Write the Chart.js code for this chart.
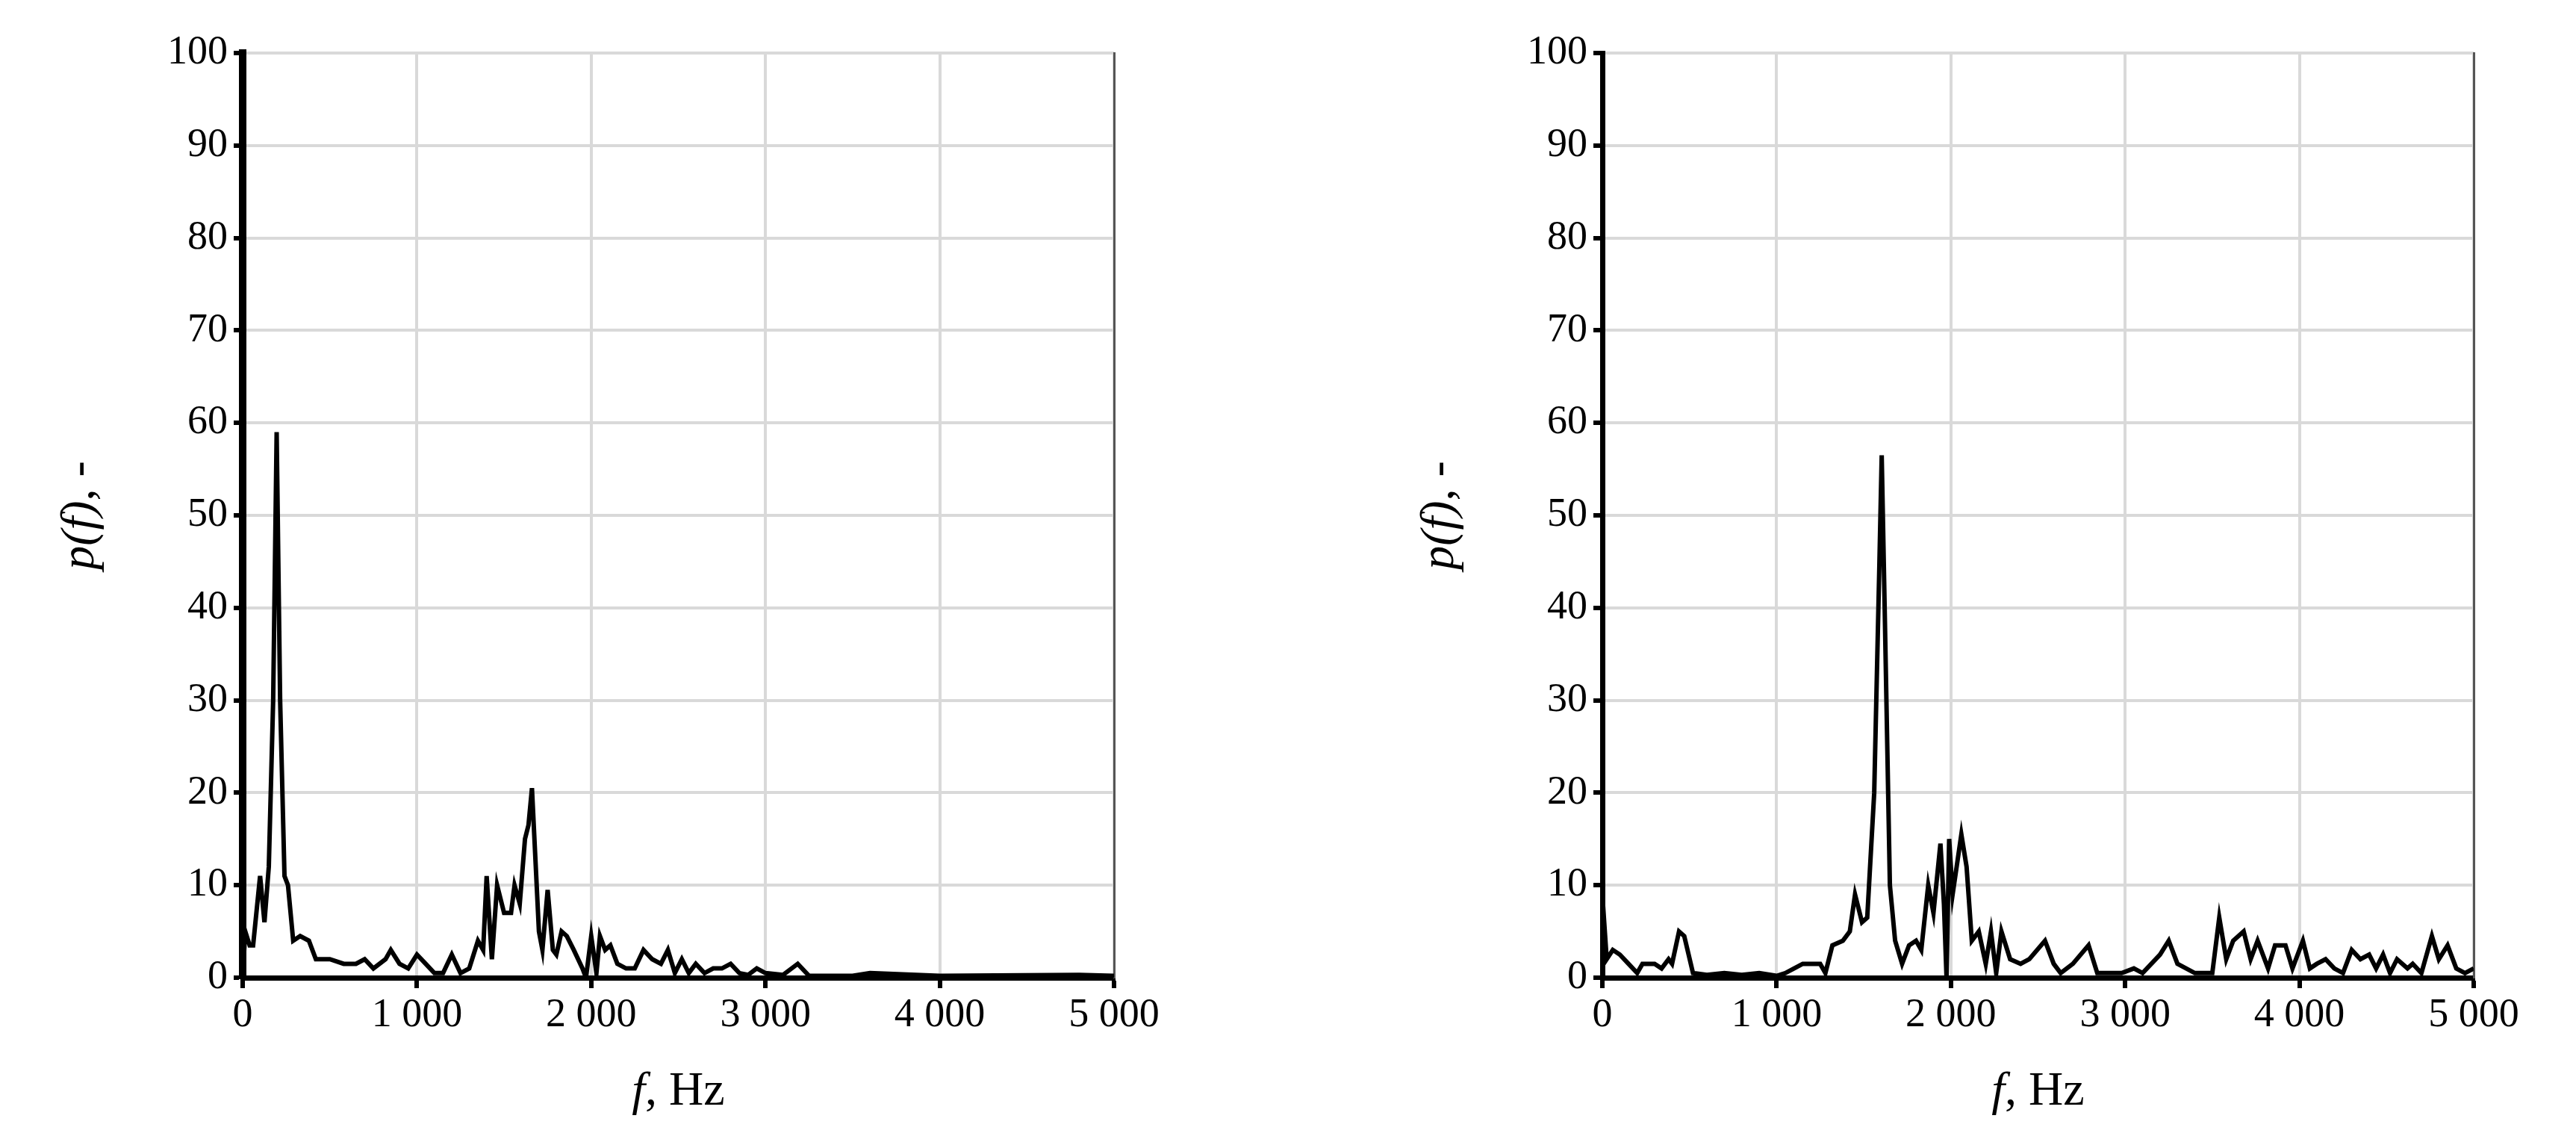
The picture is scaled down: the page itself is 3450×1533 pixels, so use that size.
<!DOCTYPE html>
<html>
<head>
<meta charset="utf-8">
<script src="https://cdn.jsdelivr.net/npm/chart.js@4/dist/chart.umd.min.js"></script>
<style>
  body { margin: 0; background: #fff; }
  .box { position: absolute; top: 0; width: 1725px; height: 1533px; }
</style>
</head>
<body>
<div class="box" style="left:0"><canvas id="c1"></canvas></div>
<div class="box" style="left:1725px"><canvas id="c2"></canvas></div>
<script>
// left spectrum
var freqA = [0, 15, 40, 60, 100, 125, 150, 175, 195, 215, 240, 260, 290, 330, 380, 420, 500, 580, 650, 700, 750, 820, 850, 900, 950, 1000,
  1050, 1100, 1150, 1200, 1250, 1300, 1350, 1380, 1400, 1430, 1460, 1500, 1540, 1560, 1590, 1620, 1640, 1660, 1700, 1720, 1750, 1780,
  1800, 1830, 1860, 1900, 1950, 1970, 2000, 2030, 2050, 2080, 2110, 2150, 2200, 2250, 2300, 2350, 2400, 2440, 2480, 2520, 2560, 2600,
  2650, 2700, 2750, 2800, 2850, 2900, 2950, 3000, 3100, 3185, 3250, 3500, 3600, 4000, 4800, 5000];
var valA = [0, 5, 3.5, 3.5, 11, 6, 12, 30, 59, 30, 11, 10, 4, 4.5, 4, 2, 2, 1.5, 1.5, 2, 1, 2, 3, 1.5, 1, 2.5,
  1.5, 0.5, 0.5, 2.5, 0.5, 1, 4, 3, 11, 2, 10, 7, 7, 10, 8, 15, 16.5, 20.5, 5, 3, 9.5, 3,
  2.5, 5, 4.5, 3, 1, 0, 4.5, 0.5, 4.5, 3, 3.5, 1.5, 1, 1, 3, 2, 1.5, 3, 0.5, 2, 0.5, 1.5,
  0.5, 1, 1, 1.5, 0.5, 0.3, 1, 0.5, 0.3, 1.5, 0.2, 0.2, 0.5, 0.2, 0.3, 0.2];

// right spectrum
var freqB = [0, 25, 60, 100, 150, 200, 230, 300, 340, 380, 400, 440, 470, 520, 600, 700, 800, 900, 1000, 1050, 1100, 1150, 1200, 1250,
  1280, 1320, 1380, 1420, 1450, 1490, 1520, 1560, 1590, 1603, 1620, 1650, 1680, 1720, 1760, 1800, 1830, 1870, 1900, 1940, 1960, 1975,
  1990, 2010, 2060, 2090, 2120, 2160, 2200, 2230, 2260, 2290, 2340, 2400, 2450, 2540, 2590, 2630, 2700, 2790, 2840, 2900, 2980, 3050,
  3100, 3200, 3250, 3300, 3400, 3500, 3540, 3580, 3620, 3680, 3720, 3760, 3820, 3860, 3920, 3960, 4020, 4060, 4100, 4150, 4200, 4250,
  4300, 4350, 4400, 4440, 4480, 4520, 4560, 4620, 4650, 4700, 4760, 4800, 4850, 4900, 4950, 5000];
var valB = [9, 2, 3, 2.5, 1.5, 0.5, 1.5, 1.5, 1, 2, 1.5, 5, 4.5, 0.5, 0.3, 0.5, 0.3, 0.5, 0.2, 0.5, 1, 1.5, 1.5, 1.5,
  0.5, 3.5, 4, 5, 9, 6, 6.5, 20, 45, 56.5, 40, 10, 4, 1.5, 3.5, 4, 3, 10, 7, 14.5, 8, 0,
  15, 9, 15.5, 12, 4, 5, 1.5, 5, 0.5, 5, 2, 1.5, 2, 4, 1.5, 0.5, 1.5, 3.5, 0.5, 0.5, 0.5, 1,
  0.5, 2.5, 4, 1.5, 0.5, 0.5, 6.5, 2, 4, 5, 2, 4, 1, 3.5, 3.5, 1, 4, 1, 1.5, 2, 1, 0.5,
  3, 2, 2.5, 1, 2.5, 0.5, 2, 1, 1.5, 0.5, 4.5, 2, 3.5, 1, 0.5, 1];

var xTicks = [0, 1000, 2000, 3000, 4000, 5000];
var yTicks = [0, 10, 20, 30, 40, 50, 60, 70, 80, 90, 100];

var FONT = "'Liberation Serif', 'DejaVu Serif', serif";

function fmt(v) {
  return String(v).replace(/\B(?=(\d{3})+(?!\d))/g, ' ');
}

// axis titles with mixed italic
var titles = {
  id: 'titles',
  afterDraw: function (chart) {
    var ctx = chart.ctx, a = chart.chartArea;
    ctx.save();
    ctx.fillStyle = '#000';
    ctx.textBaseline = 'alphabetic';
    // x title: "f, Hz"
    var it = 'italic 64px ' + FONT, rg = '64px ' + FONT;
    ctx.font = it; var w1 = ctx.measureText('f').width;
    ctx.font = rg; var w2 = ctx.measureText(', Hz').width;
    var cx = (a.left + a.right) / 2 - (w1 + w2) / 2;
    var cy = a.bottom + 170;
    ctx.font = it; ctx.fillText('f', cx, cy);
    ctx.font = rg; ctx.fillText(', Hz', cx + w1, cy);
    // y title: "p(f), -"
    ctx.translate(a.left - 200, (a.top + a.bottom) / 2);
    ctx.rotate(-Math.PI / 2);
    ctx.font = it; var t1 = ctx.measureText('p(f)').width;
    ctx.font = rg; var t2 = ctx.measureText(', -').width;
    var sx = -(t1 + t2) / 2;
    ctx.font = it; ctx.fillText('p(f)', sx, 0);
    ctx.font = rg; ctx.fillText(', -', sx + t1, 0);
    ctx.restore();
  }
};

function makeChart(id, freq, vals, leftW, rightPad, yBorder) {
  var pts = [];
  for (var i = 0; i < freq.length; i++) pts.push({ x: freq[i], y: vals[i] });
  return new Chart(document.getElementById(id), {
    type: 'line',
    data: {
      datasets: [{
        data: pts,
        borderColor: '#000',
        borderWidth: 6,
        pointRadius: 0,
        tension: 0,
        fill: false
      }]
    },
    options: {
      responsive: true,
      maintainAspectRatio: false,
      animation: false,
      layout: { padding: { top: 71, right: rightPad, bottom: 0, left: 0 } },
      plugins: { legend: { display: false }, tooltip: { enabled: false } },
      scales: {
        x: {
          type: 'linear',
          min: 0, max: 5000,
          afterBuildTicks: function (s) { s.ticks = xTicks.map(function (v) { return { value: v }; }); },
          afterFit: function (s) { s.height = 224; },
          ticks: { font: { family: FONT, size: 54 }, color: '#000', padding: 4, maxRotation: 0,
            callback: function (v) { return fmt(v); } },
          grid: { color: '#d9d9d9', lineWidth: 4, tickColor: '#000', tickWidth: 6, tickLength: 14 },
          border: { color: '#000', width: 7 }
        },
        y: {
          min: 0, max: 100,
          afterBuildTicks: function (s) { s.ticks = yTicks.map(function (v) { return { value: v }; }); },
          afterFit: function (s) { s.width = leftW; },
          ticks: { font: { family: FONT, size: 54 }, color: '#000', padding: 8 },
          grid: { color: '#d9d9d9', lineWidth: 4, tickColor: '#000', tickWidth: 6, tickLength: 12 },
          border: { color: '#000', width: yBorder }
        },
        y2: {
          position: 'right', min: 0, max: 100,
          ticks: { display: false },
          grid: { display: false },
          border: { color: '#555', width: 3 }
        }
      }
    },
    plugins: [titles]
  });
}

makeChart('c1', freqA, valA, 325, 225, 10);
makeChart('c2', freqB, valB, 421, 129, 7);
</script>
</body>
</html>
